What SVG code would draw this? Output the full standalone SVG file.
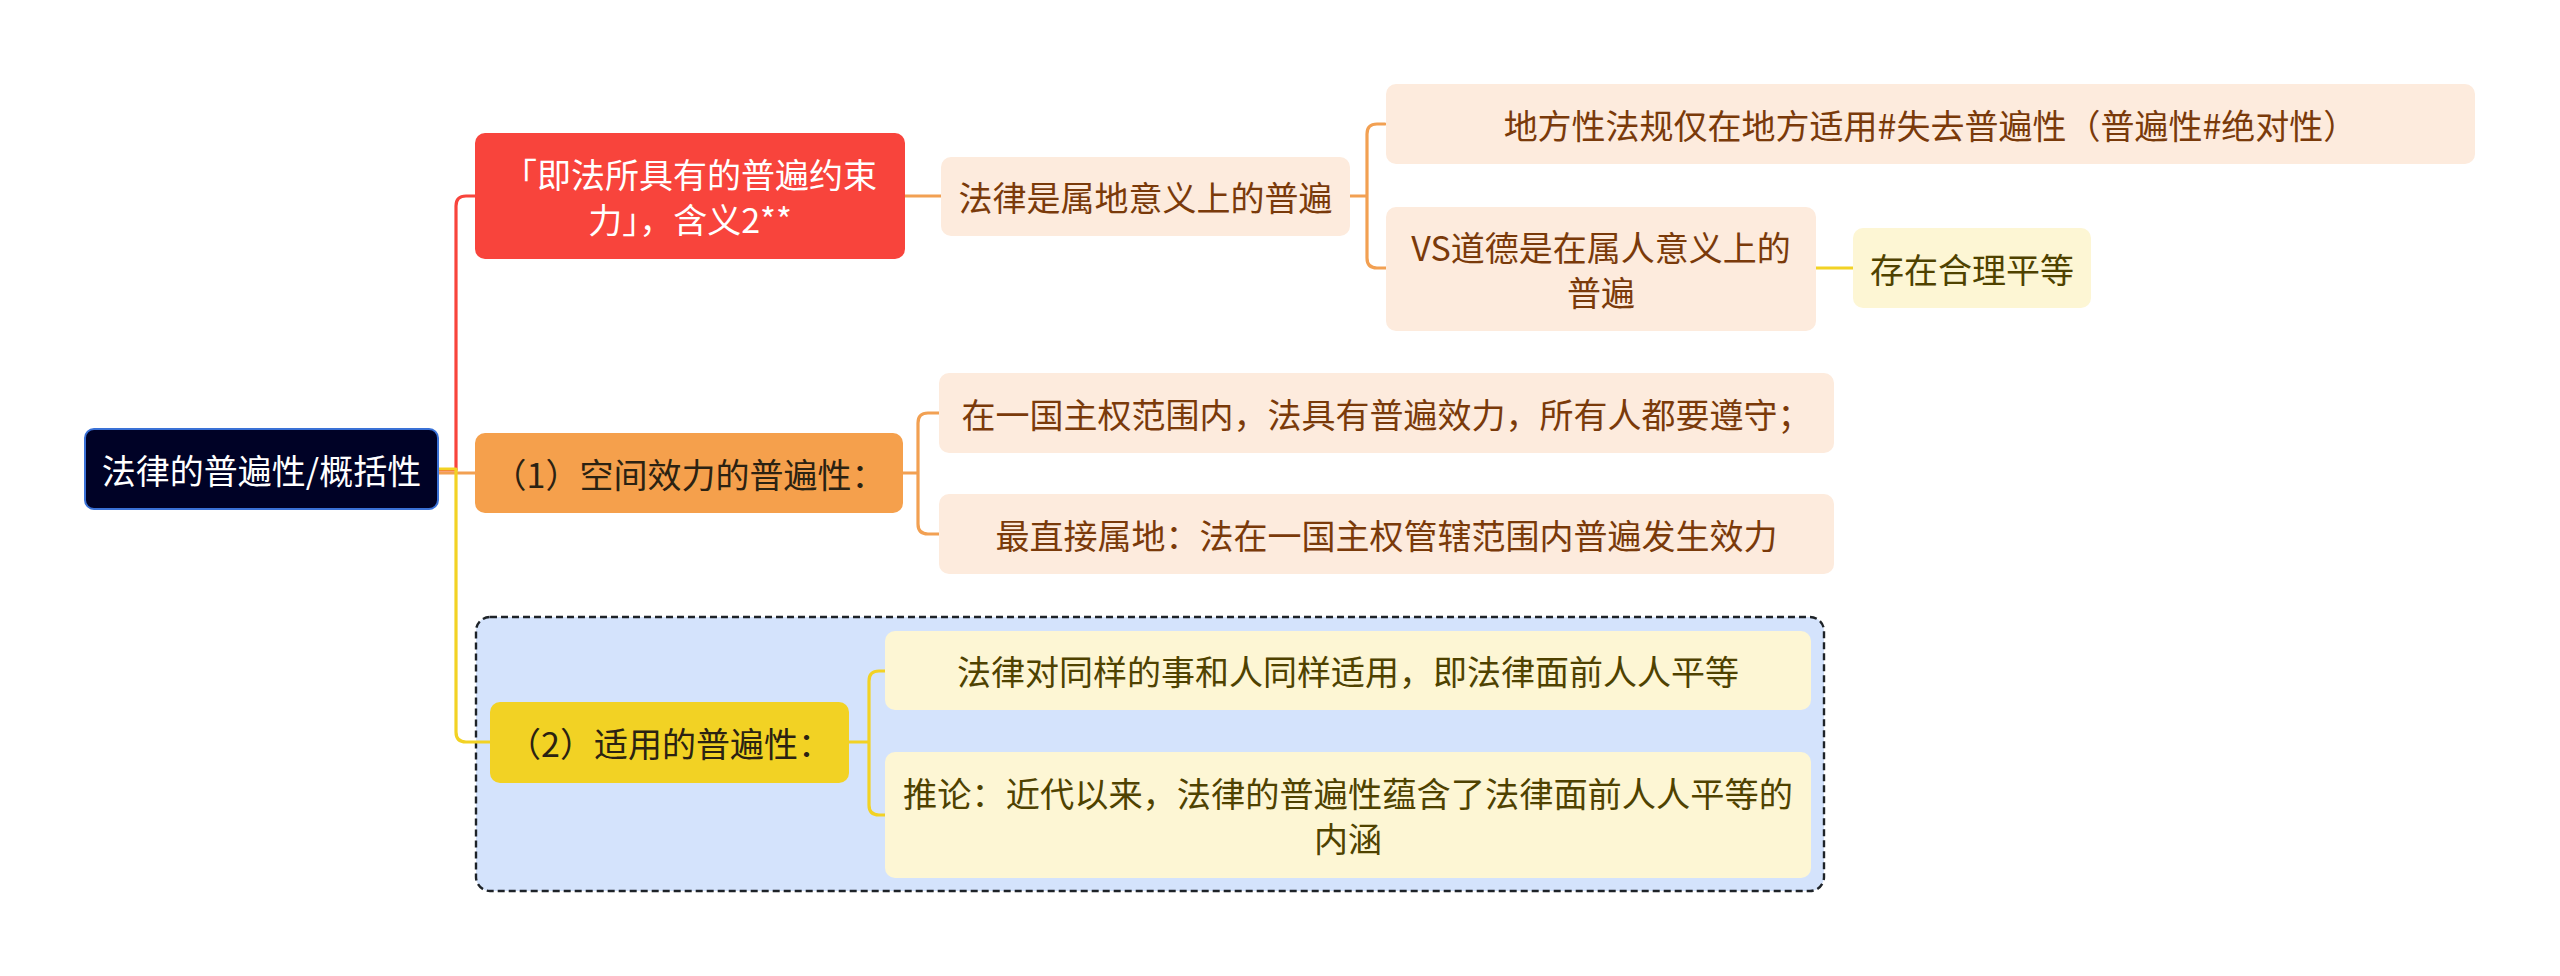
<svg xmlns="http://www.w3.org/2000/svg" width="2560" height="976" viewBox="0 0 2560 976">
<style>
text{font-family:"Noto Sans CJK SC","Noto Sans",sans-serif;font-size:34px;text-anchor:middle;dominant-baseline:central}
.root{fill:#000226;stroke:#3a71d6;stroke-width:2}
.red{fill:#f8443c}
.org{fill:#f5a04c}
.yel{fill:#f2d224}
.peach{fill:#fdebdd}
.lyel{fill:#fdf6d4}
.tw{fill:#ffffff}
.tbr{fill:#7a3a0a}
.tol{fill:#4f4200}
.tdk{fill:#2b2212}
.c{fill:none;stroke-width:3.2;stroke-linecap:round;stroke-linejoin:round}
.cr{stroke:#f8443c}
.co{stroke:#f2a052}
.cy{stroke:#f2d224}
</style>
<rect width="2560" height="976" fill="#ffffff"/>
<g id="boundary">
<rect x="476" y="617" width="1348" height="274" rx="14" fill="#d4e3fc" stroke="#1e2328" stroke-width="2.4" stroke-dasharray="7 4"/>
</g>
<g id="connectors">
<path class="c cr" d="M438,470 H456 V206 Q456,196 466,196 H475"/>
<path class="c co" d="M438,473 H475"/>
<path class="c cy" d="M438,469 H456 V732 Q456,742 466,742 H490"/>
<path class="c co" d="M905,196 H941"/>
<path class="c co" d="M1350,196 H1367 M1385,124 H1377 Q1367,124 1367,134 V258 Q1367,268 1377,268 H1386"/>
<path class="c cy" d="M1816,268 H1853"/>
<path class="c co" d="M903,473 H918 M939,413 H928 Q918,413 918,423 V524 Q918,534 928,534 H939"/>
<path class="c cy" d="M849,742 H869 M885,671 H879 Q869,671 869,681 V805 Q869,815 879,815 H885"/>
</g>
<g id="root">
<rect class="root" x="85" y="429" width="353" height="80" rx="9"/>
<text class="tw" x="261.5" y="469">法律的普遍性/概括性</text>
</g>
<g id="n-red">
<rect class="red" x="475" y="133" width="430" height="126" rx="10"/>
<text class="tw" x="690" y="173.5">「即法所具有的普遍约束</text>
<text class="tw" x="690" y="218.5">力」，含义2**</text>
</g>
<g id="n-territorial">
<rect class="peach" x="941" y="157" width="409" height="79" rx="10"/>
<text class="tbr" x="1145.5" y="196.5">法律是属地意义上的普遍</text>
</g>
<g id="n-local">
<rect class="peach" x="1386" y="84" width="1089" height="80" rx="10"/>
<text class="tbr" x="1930.5" y="124">地方性法规仅在地方适用#失去普遍性（普遍性#绝对性）</text>
</g>
<g id="n-morality">
<rect class="peach" x="1386" y="207" width="430" height="124" rx="10"/>
<text class="tbr" x="1601" y="246.5">VS道德是在属人意义上的</text>
<text class="tbr" x="1601" y="291.5">普遍</text>
</g>
<g id="n-equal">
<rect class="lyel" x="1853" y="228" width="238" height="80" rx="10"/>
<text class="tol" x="1972" y="268">存在合理平等</text>
</g>
<g id="n-space">
<rect class="org" x="475" y="433" width="428" height="80" rx="10"/>
<text class="tdk" x="689" y="473">（1）空间效力的普遍性：</text>
</g>
<g id="n-space-1">
<rect class="peach" x="939" y="373" width="895" height="80" rx="10"/>
<text class="tbr" x="1386.5" y="413">在一国主权范围内，法具有普遍效力，所有人都要遵守；</text>
</g>
<g id="n-space-2">
<rect class="peach" x="939" y="494" width="895" height="80" rx="10"/>
<text class="tbr" x="1386.5" y="534">最直接属地：法在一国主权管辖范围内普遍发生效力</text>
</g>
<g id="n-apply">
<rect class="yel" x="490" y="702" width="359" height="81" rx="10"/>
<text class="tdk" x="669.5" y="742.5">（2）适用的普遍性：</text>
</g>
<g id="n-apply-1">
<rect class="lyel" x="885" y="631" width="926" height="79" rx="10"/>
<text class="tol" x="1348" y="670.5">法律对同样的事和人同样适用，即法律面前人人平等</text>
</g>
<g id="n-apply-2">
<rect class="lyel" x="885" y="752" width="926" height="126" rx="10"/>
<text class="tol" x="1348" y="792.5" textLength="890" lengthAdjust="spacingAndGlyphs">推论：近代以来，法律的普遍性蕴含了法律面前人人平等的</text>
<text class="tol" x="1348" y="837.5">内涵</text>
</g>
</svg>
